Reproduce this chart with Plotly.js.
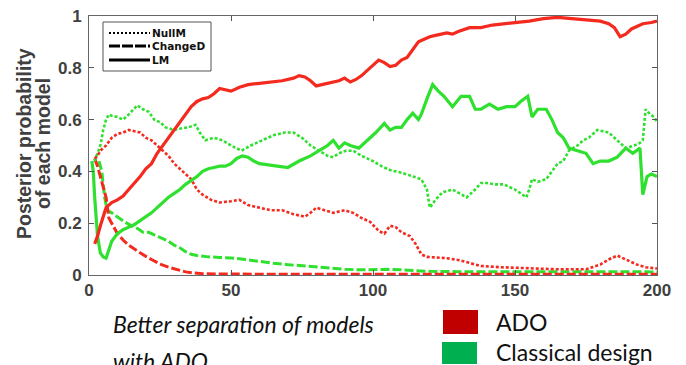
<!DOCTYPE html>
<html>
<head>
<meta charset="utf-8">
<script src="https://cdn.plot.ly/plotly-3.0.1.min.js"></script>
<style>
  html, body { margin: 0; padding: 0; background: #ffffff; }
  #chart { width: 686px; height: 365px; }
</style>
</head>
<body>
<div id="chart"></div>
<script>
// ---- Data: [trial, posterior probability] ----
const adoNullM = [[2,0.45],[3,0.46],[4,0.48],[5,0.49],[6,0.5],[8,0.53],[10,0.545],[12,0.55],[14,0.56],[16,0.555],[18,0.55],[20,0.53],[22,0.52],[24,0.5],[26,0.48],[28,0.46],[30,0.43],[32,0.41],[34,0.39],[36,0.37],[38,0.33],[40,0.31],[43,0.29],[46,0.28],[50,0.285],[53,0.29],[56,0.27],[60,0.26],[64,0.25],[68,0.25],[72,0.235],[76,0.225],[78,0.24],[80,0.26],[83,0.25],[86,0.24],[90,0.25],[93,0.24],[96,0.22],[99,0.205],[102,0.17],[104,0.16],[106,0.19],[108,0.185],[110,0.165],[113,0.15],[115,0.12],[117,0.08],[119,0.07],[122,0.068],[126,0.065],[130,0.058],[134,0.045],[138,0.035],[145,0.03],[155,0.025],[165,0.022],[175,0.022],[180,0.04],[183,0.06],[186,0.075],[188,0.065],[190,0.055],[193,0.04],[196,0.03],[200,0.025]];
const adoChangeD = [[2,0.45],[3,0.42],[4,0.38],[5,0.34],[6,0.3],[7,0.22],[8,0.2],[10,0.16],[12,0.135],[14,0.115],[16,0.1],[18,0.085],[20,0.072],[22,0.06],[25,0.042],[28,0.03],[31,0.02],[34,0.012],[37,0.008],[40,0.005],[45,0.004],[50,0.003],[60,0.003],[80,0.003],[100,0.003],[120,0.003],[140,0.003],[160,0.003],[180,0.003],[200,0.003]];
const adoLM = [[2,0.12],[3,0.15],[4,0.19],[5,0.23],[6,0.26],[7,0.27],[8,0.28],[10,0.29],[12,0.305],[14,0.33],[16,0.355],[18,0.38],[20,0.41],[22,0.43],[24,0.47],[26,0.5],[28,0.53],[30,0.56],[32,0.59],[34,0.62],[36,0.65],[38,0.67],[40,0.68],[42,0.685],[44,0.7],[46,0.72],[48,0.715],[50,0.71],[53,0.725],[56,0.735],[60,0.74],[64,0.745],[68,0.75],[72,0.76],[74,0.77],[76,0.765],[78,0.75],[80,0.73],[82,0.735],[85,0.745],[88,0.75],[90,0.76],[92,0.745],[94,0.755],[96,0.77],[98,0.79],[100,0.81],[102,0.83],[104,0.82],[106,0.805],[108,0.81],[110,0.83],[112,0.84],[114,0.87],[116,0.9],[118,0.91],[120,0.92],[122,0.925],[124,0.93],[126,0.935],[128,0.93],[130,0.94],[134,0.955],[138,0.955],[142,0.965],[146,0.97],[150,0.975],[155,0.98],[160,0.99],[165,0.995],[170,0.99],[175,0.985],[180,0.98],[183,0.97],[185,0.955],[187,0.92],[189,0.93],[191,0.95],[193,0.96],[195,0.97],[198,0.975],[200,0.98]];
const classNullM = [[2,0.44],[3,0.47],[4,0.5],[5,0.56],[6,0.6],[7,0.62],[8,0.615],[10,0.61],[12,0.6],[14,0.62],[16,0.645],[17,0.655],[19,0.64],[21,0.63],[23,0.6],[25,0.59],[27,0.57],[30,0.56],[32,0.565],[35,0.57],[37.5,0.58],[39,0.55],[41,0.52],[44,0.53],[47,0.52],[50,0.5],[53.7,0.48],[57,0.5],[61,0.52],[65,0.54],[69,0.55],[72,0.55],[75,0.53],[78,0.5],[81,0.48],[84,0.46],[86,0.455],[88,0.47],[90.5,0.48],[93,0.48],[96,0.46],[100,0.44],[103,0.42],[106,0.405],[110,0.395],[114,0.38],[117,0.37],[119,0.33],[120,0.26],[122,0.29],[124.5,0.32],[128,0.33],[131,0.31],[133,0.3],[136,0.33],[138,0.355],[140,0.355],[143,0.35],[146,0.35],[150,0.33],[154,0.3],[155,0.33],[156,0.37],[158,0.36],[161,0.37],[163,0.4],[165,0.43],[167,0.44],[169,0.48],[172,0.5],[174,0.52],[176,0.53],[179,0.56],[181,0.555],[183,0.55],[186,0.52],[189,0.49],[192,0.5],[194,0.51],[195,0.52],[196,0.64],[197.6,0.62],[199,0.61],[200,0.59]];
const classChangeD = [[3.5,0.44],[4.5,0.4],[5.5,0.3],[6.4,0.25],[8,0.24],[10,0.225],[12.5,0.205],[15,0.19],[17,0.18],[19,0.165],[21,0.165],[23,0.155],[25,0.145],[28,0.13],[30,0.115],[32,0.105],[34,0.09],[36,0.08],[38,0.075],[42,0.07],[46,0.068],[50,0.066],[55,0.06],[60,0.052],[65,0.045],[70,0.04],[75,0.035],[80,0.03],[85,0.026],[90,0.022],[95,0.02],[100,0.022],[105,0.022],[110,0.02],[115,0.016],[120,0.014],[130,0.013],[140,0.013],[150,0.012],[160,0.012],[170,0.011],[180,0.011],[190,0.012],[200,0.012]];
const classLM = [[1,0.44],[1.5,0.4],[2,0.3],[3,0.15],[4,0.085],[5,0.07],[6,0.065],[7,0.1],[8,0.13],[10,0.16],[12,0.175],[14,0.185],[16,0.195],[18,0.21],[20,0.225],[22,0.24],[24,0.26],[26,0.28],[28,0.3],[30,0.315],[32,0.33],[34,0.35],[36,0.365],[38,0.38],[40,0.4],[42,0.41],[44,0.415],[46,0.42],[48,0.42],[50,0.43],[52,0.45],[54,0.46],[56,0.455],[58,0.44],[60,0.43],[63,0.425],[66,0.42],[70,0.415],[74,0.44],[78,0.46],[81,0.48],[84,0.5],[86,0.52],[88,0.49],[90,0.51],[92,0.5],[95,0.49],[98,0.52],[101,0.55],[104,0.585],[106,0.56],[108,0.57],[110,0.57],[112,0.6],[114,0.625],[116,0.6],[117,0.62],[119,0.68],[121,0.735],[123,0.71],[125,0.69],[128,0.65],[131,0.69],[134,0.69],[136,0.64],[138,0.64],[141,0.66],[144,0.64],[147,0.65],[150,0.65],[152,0.67],[154.5,0.69],[156,0.61],[158,0.64],[161,0.64],[163,0.6],[165,0.55],[167,0.53],[169,0.49],[172,0.48],[175,0.47],[177.5,0.43],[180,0.44],[183,0.44],[186,0.455],[189,0.49],[191.5,0.47],[194,0.49],[195,0.31],[196.5,0.38],[198,0.39],[200,0.38]];

const xTicks = [0, 50, 100, 150, 200];
const yTicks = [0, 0.2, 0.4, 0.6, 0.8, 1];
const yTickText = ['0', '0.2', '0.4', '0.6', '0.8', '1'];
const yTitleLines = ['Posterior probability', 'of each model'];
const modelNames = ['NullM', 'ChangeD', 'LM'];
const designNames = ['ADO', 'Classical design'];
const captionLines = ['Better separation of models', 'with ADO'];

// ---- Styling ----
const RED = '#f42a1e';
const GREEN = '#2fe02f';
const dashFor = { NullM: '3px,2px', ChangeD: '9px,3px', LM: 'solid' };
const widthFor = { NullM: 2.6, ChangeD: 3, LM: 3.2 };

function series(pairs, name, color) {
  return {
    type: 'scatter', mode: 'lines', name: name, showlegend: false,
    x: pairs.map(p => p[0]), y: pairs.map(p => p[1]),
    line: { color: color, width: widthFor[name], dash: dashFor[name] },
    hoverinfo: 'skip'
  };
}

const traces = [
  series(classChangeD, 'ChangeD', GREEN),
  series(adoChangeD, 'ChangeD', RED),
  series(classNullM, 'NullM', GREEN),
  series(adoNullM, 'NullM', RED),
  series(classLM, 'LM', GREEN),
  series(adoLM, 'LM', RED)
];

// plot area in pixels: left 89, right 657, top 16, bottom 275
const L = 89, R = 657, T = 16, B = 275;
const px = v => (v - L) / (R - L);
const py = v => (B - v) / (B - T);

const shapes = [];
const annotations = [];

// y-axis title, two rotated lines
const yTitleX = [24, 43];
yTitleLines.forEach((t, i) => {
  annotations.push({ xref: 'paper', yref: 'paper', x: px(yTitleX[i]), y: py(144), xanchor: 'center', yanchor: 'middle',
    text: t, textangle: -90, showarrow: false,
    font: { family: 'Liberation Sans, Arial, sans-serif', size: 19.5, color: '#404040', weight: 'bold' } });
});

// inner line-style legend
shapes.push({ type: 'rect', xref: 'paper', yref: 'paper', x0: px(103), x1: px(211), y0: py(71), y1: py(22),
  line: { color: '#555', width: 1 }, fillcolor: 'white', layer: 'above' });
const legY = [33, 46, 60];
modelNames.forEach((m, i) => {
  shapes.push({ type: 'line', xref: 'paper', yref: 'paper', x0: px(109), x1: px(150), y0: py(legY[i]), y1: py(legY[i]),
    line: { color: '#000', width: m === 'NullM' ? 2.2 : 3, dash: m === 'LM' ? 'solid' : (m === 'NullM' ? '2px,2px' : '11px,2px') }, layer: 'above' });
  annotations.push({ xref: 'paper', yref: 'paper', x: px(150), y: py(legY[i]), xanchor: 'left', yanchor: 'middle',
    text: m, showarrow: false, font: { family: 'DejaVu Sans, sans-serif', size: 10.5, color: '#111', weight: 'bold' } });
});

// caption under the chart
const capFont = { family: 'Lato, Liberation Sans, sans-serif', size: 23, color: '#111', style: 'italic' };
annotations.push({ xref: 'paper', yref: 'paper', x: px(111), y: py(324), xanchor: 'left', yanchor: 'middle',
  text: '<i>' + captionLines[0] + '</i>', showarrow: false, font: capFont });
annotations.push({ xref: 'paper', yref: 'paper', x: px(111), y: py(361), xanchor: 'left', yanchor: 'middle',
  text: '<i>' + captionLines[1] + '</i>', showarrow: false, font: capFont });

// design colour key
const keyColors = ['#c00000', '#00b050'];
const keyBoxes = [[443, 478, 310, 334], [442, 477, 342, 364]];
const keyTextY = [322, 352];
designNames.forEach((d, i) => {
  const b = keyBoxes[i];
  shapes.push({ type: 'rect', xref: 'paper', yref: 'paper', x0: px(b[0]), x1: px(b[1]), y0: py(b[3]), y1: py(b[2]),
    line: { width: 0 }, fillcolor: keyColors[i] });
  annotations.push({ xref: 'paper', yref: 'paper', x: px(494), y: py(keyTextY[i]), xanchor: 'left', yanchor: 'middle',
    text: d, showarrow: false, font: { family: 'Lato, Liberation Sans, sans-serif', size: 23, color: '#111' } });
});

const tickFont = { family: 'Liberation Sans, Arial, sans-serif', size: 17, color: '#404040', weight: 'bold' };

const layout = {
  width: 686, height: 365,
  margin: { l: L, r: 686 - R, t: T, b: 365 - B, pad: 0 },
  paper_bgcolor: 'white', plot_bgcolor: 'white',
  showlegend: false,
  xaxis: {
    range: [0, 200], tickvals: xTicks, ticks: 'inside', ticklen: 5, tickcolor: '#555',
    showline: true, linecolor: '#666', linewidth: 1, mirror: 'ticks',
    showgrid: false, zeroline: false, tickfont: tickFont, fixedrange: true
  },
  yaxis: {
    range: [0, 1], tickvals: yTicks, ticktext: yTickText, ticks: 'inside', ticklen: 5, tickcolor: '#555',
    showline: true, linecolor: '#666', linewidth: 1, mirror: 'ticks', ticklabelstandoff: 3,
    showgrid: false, zeroline: false, tickfont: tickFont, fixedrange: true
  },
  shapes: shapes,
  annotations: annotations
};

Plotly.newPlot('chart', traces, layout, { displayModeBar: false, staticPlot: true });
</script>
</body>
</html>
